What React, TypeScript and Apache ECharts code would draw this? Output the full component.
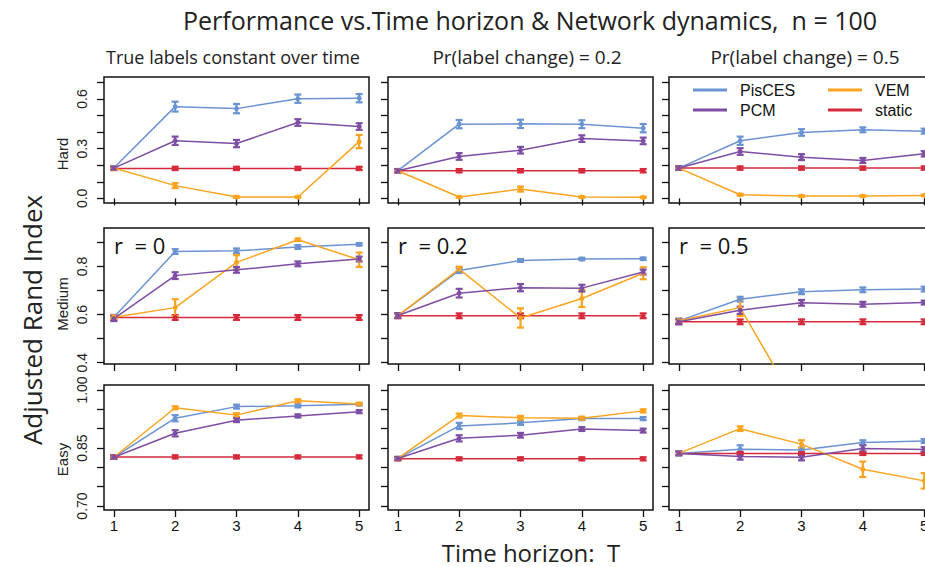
import React, { useEffect, useRef } from "react";
import * as echarts from "echarts";

const T = [1, 2, 3, 4, 5];
const methods = ["PisCES", "PCM", "VEM", "static"];
const colors = ["#6b93d2", "#7d4ea3", "#fca41f", "#d52a3b"];
const colTitles = ["True labels constant over time", "Pr(label change) = 0.2", "Pr(label change) = 0.5"];
const rowNames = ["Hard", "Medium", "Easy"];
const rLabels = ["r  = 0", "r  = 0.2", "r  = 0.5"];

// mean ARI per panel; rows: PisCES, PCM, VEM, static
const hardP0 = [
  [0.183, 0.554, 0.542, 0.602, 0.605],
  [0.183, 0.348, 0.331, 0.458, 0.434],
  [0.183, 0.077, 0.008, 0.008, 0.343],
  [0.181, 0.181, 0.181, 0.181, 0.181],
];
const hardP2 = [
  [0.167, 0.448, 0.45, 0.448, 0.424],
  [0.167, 0.253, 0.291, 0.361, 0.347],
  [0.167, 0.008, 0.056, 0.008, 0.006],
  [0.167, 0.167, 0.167, 0.167, 0.167],
];
const hardP5 = [
  [0.183, 0.348, 0.398, 0.414, 0.406],
  [0.183, 0.283, 0.249, 0.229, 0.269],
  [0.183, 0.022, 0.014, 0.014, 0.018],
  [0.183, 0.183, 0.183, 0.183, 0.183],
];
const mediumP0 = [
  [0.589, 0.862, 0.865, 0.881, 0.892],
  [0.583, 0.762, 0.786, 0.811, 0.831],
  [0.589, 0.629, 0.817, 0.911, 0.828],
  [0.588, 0.588, 0.588, 0.588, 0.588],
];
const mediumP2 = [
  [0.596, 0.783, 0.825, 0.831, 0.832],
  [0.596, 0.689, 0.712, 0.71, 0.777],
  [0.596, 0.789, 0.586, 0.667, 0.772],
  [0.595, 0.595, 0.595, 0.595, 0.595],
];
const mediumP5 = [
  [0.574, 0.664, 0.695, 0.703, 0.706],
  [0.57, 0.618, 0.649, 0.643, 0.65],
  [0.574, 0.629, 0.19, 0.17, 0.16],
  [0.57, 0.57, 0.57, 0.57, 0.57],
];
const easyP0 = [
  [0.826, 0.927, 0.957, 0.959, 0.963],
  [0.826, 0.888, 0.922, 0.933, 0.944],
  [0.826, 0.954, 0.935, 0.972, 0.964],
  [0.827, 0.827, 0.827, 0.827, 0.827],
];
const easyP2 = [
  [0.823, 0.907, 0.915, 0.926, 0.926],
  [0.823, 0.875, 0.883, 0.899, 0.895],
  [0.823, 0.934, 0.928, 0.927, 0.946],
  [0.822, 0.822, 0.822, 0.822, 0.822],
];
const easyP5 = [
  [0.836, 0.847, 0.845, 0.864, 0.868],
  [0.836, 0.828, 0.826, 0.849, 0.846],
  [0.836, 0.9, 0.86, 0.795, 0.765],
  [0.836, 0.836, 0.836, 0.836, 0.836],
];

// error bar half-widths, same layout
const hardP0Err = [
  [0.01, 0.03, 0.028, 0.025, 0.025],
  [0.01, 0.025, 0.022, 0.02, 0.02],
  [0.01, 0.015, 0.004, 0.004, 0.04],
  [0.01, 0.01, 0.01, 0.01, 0.01],
];
const hardP2Err = [
  [0.01, 0.025, 0.025, 0.024, 0.025],
  [0.01, 0.02, 0.02, 0.02, 0.02],
  [0.008, 0.004, 0.015, 0.004, 0.004],
  [0.01, 0.01, 0.01, 0.01, 0.01],
];
const hardP5Err = [
  [0.01, 0.025, 0.02, 0.015, 0.015],
  [0.01, 0.02, 0.018, 0.015, 0.016],
  [0.006, 0.005, 0.004, 0.004, 0.004],
  [0.01, 0.01, 0.01, 0.01, 0.01],
];
const mediumP0Err = [
  [0.01, 0.01, 0.01, 0.008, 0.005],
  [0.01, 0.014, 0.012, 0.01, 0.01],
  [0.008, 0.035, 0.03, 0.005, 0.03],
  [0.01, 0.01, 0.01, 0.01, 0.01],
];
const mediumP2Err = [
  [0.01, 0.01, 0.006, 0.005, 0.005],
  [0.01, 0.018, 0.015, 0.014, 0.01],
  [0.008, 0.01, 0.04, 0.035, 0.025],
  [0.01, 0.01, 0.01, 0.01, 0.01],
];
const mediumP5Err = [
  [0.01, 0.01, 0.01, 0.01, 0.01],
  [0.01, 0.015, 0.012, 0.01, 0.008],
  [0.008, 0.035, 0.02, 0.02, 0.02],
  [0.01, 0.01, 0.01, 0.01, 0.01],
];
const easyP0Err = [
  [0.004, 0.008, 0.005, 0.004, 0.003],
  [0.004, 0.008, 0.005, 0.004, 0.004],
  [0.003, 0.004, 0.005, 0.004, 0.003],
  [0.004, 0.004, 0.004, 0.004, 0.004],
];
const easyP2Err = [
  [0.004, 0.008, 0.005, 0.004, 0.004],
  [0.004, 0.008, 0.006, 0.005, 0.005],
  [0.003, 0.005, 0.005, 0.004, 0.004],
  [0.004, 0.004, 0.004, 0.004, 0.004],
];
const easyP5Err = [
  [0.005, 0.01, 0.006, 0.006, 0.005],
  [0.005, 0.008, 0.008, 0.008, 0.006],
  [0.004, 0.006, 0.01, 0.02, 0.02],
  [0.004, 0.004, 0.004, 0.004, 0.004],
];

const panelMeans = [
  [hardP0, hardP2, hardP5],
  [mediumP0, mediumP2, mediumP5],
  [easyP0, easyP2, easyP5],
];
const panelErrs = [
  [hardP0Err, hardP2Err, hardP5Err],
  [mediumP0Err, mediumP2Err, mediumP5Err],
  [easyP0Err, easyP2Err, easyP5Err],
];

const yMin = [-0.028, 0.3946, 0.6897];
const yMax = [0.733, 0.96, 1.0129];
const yTicks = [
  [0, 0.1, 0.2, 0.3, 0.4, 0.5, 0.6, 0.7],
  [0.4, 0.5, 0.6, 0.7, 0.8, 0.9],
  [0.7, 0.75, 0.8, 0.85, 0.9, 0.95, 1.0],
];
const yTickLabels = [
  [0, 0.3, 0.6],
  [0.4, 0.6, 0.8],
  [0.7, 0.85, 1.0],
];
const yDigits = [1, 1, 2];

const gridLeft = [104, 388, 669];
const gridWidth = 265;
const gridTop = [77, 228, 385];
const gridHeight = [126, 136, 125];

const labelFont = "'Liberation Sans', Arial, sans-serif";
const titleFont = "'Open Sans', 'Noto Sans', sans-serif";

export default function App() {
  const ref = useRef<HTMLDivElement>(null);

  useEffect(() => {
    document.body.style.margin = "0";
    if (!ref.current) return;
    const chart = echarts.init(ref.current, null, { renderer: "svg" });

    const grids: any[] = [];
    const xAxes: any[] = [];
    const yAxes: any[] = [];
    const series: any[] = [];
    const drawOrder = [0, 3, 2, 1];

    for (let r = 0; r < 3; r++) {
      for (let c = 0; c < 3; c++) {
        const idx = r * 3 + c;
        grids.push({
          left: gridLeft[c],
          top: gridTop[r],
          width: gridWidth,
          height: gridHeight[r],
          show: true,
          borderColor: "#111",
          borderWidth: 1.5,
          backgroundColor: "transparent",
        });
        xAxes.push({
          type: "value",
          gridIndex: idx,
          min: 0.84,
          max: 5.16,
          axisLine: { show: false },
          splitLine: { show: false },
          axisTick: {
            show: true,
            inside: false,
            length: 7,
            customValues: T,
            lineStyle: { color: "#111", width: 1.3 },
          },
          axisLabel: {
            show: r === 2,
            customValues: T,
            margin: 8,
            fontSize: 15,
            color: "#111",
            fontFamily: labelFont,
            formatter: (v: number) => String(v),
          },
        });
        yAxes.push({
          type: "value",
          gridIndex: idx,
          min: yMin[r],
          max: yMax[r],
          axisLine: { show: false },
          splitLine: { show: false },
          axisTick: {
            show: true,
            inside: false,
            length: 7,
            customValues: yTicks[r],
            lineStyle: { color: "#111", width: 1.3 },
          },
          axisLabel: {
            show: c === 0,
            customValues: yTickLabels[r],
            rotate: 90,
            margin: 15,
            fontSize: 14,
            color: "#222",
            fontFamily: labelFont,
            formatter: (v: number) => v.toFixed(yDigits[r]),
          },
        });

        const means = panelMeans[r][c];
        const errs = panelErrs[r][c];
        for (const m of drawOrder) {
          const color = colors[m];
          series.push({
            type: "custom",
            name: methods[m] + " err",
            xAxisIndex: idx,
            yAxisIndex: idx,
            clip: true,
            silent: true,
            data: T.map((t, i) => [t, means[m][i] - errs[m][i], means[m][i] + errs[m][i]]),
            renderItem: (params: any, api: any) => {
              const x = api.value(0);
              const p1 = api.coord([x, api.value(1)]);
              const p2 = api.coord([x, api.value(2)]);
              const w = 3.5;
              const st = { stroke: color, lineWidth: 2.2 };
              return {
                type: "group",
                children: [
                  { type: "line", shape: { x1: p1[0], y1: p1[1], x2: p2[0], y2: p2[1] }, style: st },
                  { type: "line", shape: { x1: p1[0] - w, y1: p1[1], x2: p1[0] + w, y2: p1[1] }, style: st },
                  { type: "line", shape: { x1: p2[0] - w, y1: p2[1], x2: p2[0] + w, y2: p2[1] }, style: st },
                ],
              };
            },
          });
          series.push({
            type: "line",
            name: methods[m],
            xAxisIndex: idx,
            yAxisIndex: idx,
            clip: true,
            symbol: "circle",
            symbolSize: 5,
            itemStyle: { color },
            lineStyle: { color, width: 1.5 },
            data: T.map((t, i) => [t, means[m][i]]),
          });
        }
      }
    }

    const graphics: any[] = [];
    graphics.push({
      type: "text",
      x: 530,
      y: 20,
      style: {
        text: "Performance vs.Time horizon & Network dynamics,  n = 100",
        fontSize: 25,
        fontFamily: titleFont,
        fill: "#222",
        align: "center",
        verticalAlign: "middle",
      },
    });
    const colTitleX = [233, 527, 805];
    const colTitleSize = [18, 19, 19];
    for (let c = 0; c < 3; c++) {
      graphics.push({
        type: "text",
        x: colTitleX[c],
        y: 57,
        style: {
          text: colTitles[c],
          fontSize: colTitleSize[c],
          fontFamily: titleFont,
          fill: "#222",
          align: "center",
          verticalAlign: "middle",
        },
      });
      graphics.push({
        type: "text",
        x: gridLeft[c] + 10,
        y: 245,
        style: {
          text: rLabels[c],
          fontSize: 22,
          fontFamily: titleFont,
          fill: "#111",
          align: "left",
          verticalAlign: "middle",
        },
      });
    }
    for (let r = 0; r < 3; r++) {
      graphics.push({
        type: "text",
        x: 62,
        y: gridTop[r] + gridHeight[r] / 2 + (r === 0 ? 14 : r === 1 ? 8 : 12),
        rotation: Math.PI / 2,
        style: {
          text: rowNames[r],
          fontSize: 15,
          fontFamily: labelFont,
          fill: "#222",
          align: "center",
          verticalAlign: "middle",
        },
      });
    }
    graphics.push({
      type: "text",
      x: 32,
      y: 320,
      rotation: Math.PI / 2,
      style: {
        text: "Adjusted Rand Index",
        fontSize: 26,
        fontFamily: titleFont,
        fill: "#222",
        align: "center",
        verticalAlign: "middle",
      },
    });
    graphics.push({
      type: "text",
      x: 531,
      y: 552,
      style: {
        text: "Time horizon:  T",
        fontSize: 24,
        fontFamily: titleFont,
        fill: "#222",
        align: "center",
        verticalAlign: "middle",
      },
    });
    // legend
    const legendPos = [
      [693, 90],
      [693, 110],
      [828, 90],
      [828, 110],
    ];
    for (let m = 0; m < 4; m++) {
      const [lx, ly] = legendPos[m];
      graphics.push({
        type: "line",
        shape: { x1: lx, y1: ly, x2: lx + 34, y2: ly },
        style: { stroke: colors[m], lineWidth: 3 },
      });
      graphics.push({
        type: "text",
        x: lx + 47,
        y: ly,
        style: {
          text: methods[m],
          fontSize: 16,
          fontFamily: labelFont,
          fill: "#111",
          align: "left",
          verticalAlign: "middle",
        },
      });
    }

    chart.setOption({
      animation: false,
      backgroundColor: "#ffffff",
      grid: grids,
      xAxis: xAxes,
      yAxis: yAxes,
      series,
      graphic: graphics,
    });

    return () => chart.dispose();
  }, []);

  return (
    <div style={{ width: 925, height: 567, overflow: "hidden", position: "relative" }}>
      <div ref={ref} style={{ width: 945, height: 567 }} />
    </div>
  );
}
